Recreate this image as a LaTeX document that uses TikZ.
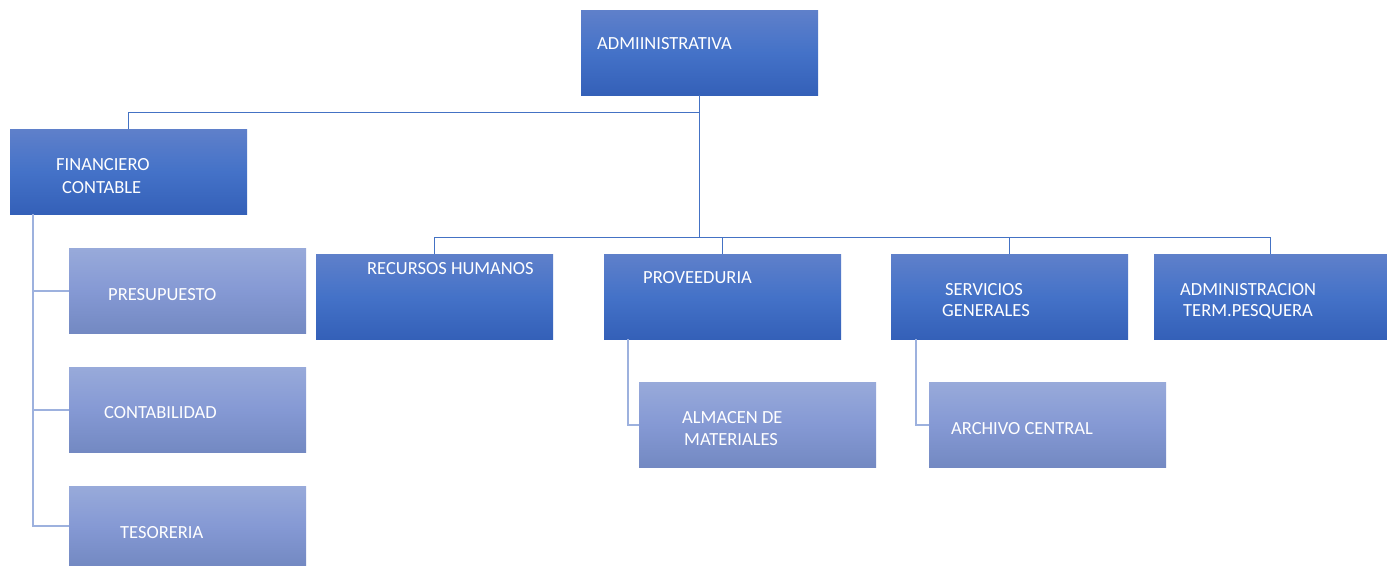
\documentclass[tikz,border=0pt]{standalone}
\usepackage{fontspec}
\setmainfont{Carlito}
\usetikzlibrary{calc}
\definecolor{dtop}{HTML}{5F80CA}
\definecolor{dmid}{HTML}{4472C8}
\definecolor{dbot}{HTML}{3460B8}
\definecolor{ltop}{HTML}{98AADA}
\definecolor{lmid}{HTML}{8599D4}
\definecolor{lbot}{HTML}{7389C2}
\definecolor{dline}{HTML}{4472C4}
\definecolor{lline}{HTML}{9DB1DE}
\tikzset{
  darkbox/.style={rectangle, inner sep=0pt, anchor=north west, top color=dtop, bottom color=dbot, middle color=dmid, draw=none, minimum width=237pt, minimum height=85pt},
  lightbox/.style={rectangle, inner sep=0pt, anchor=north west, top color=ltop, bottom color=lbot, middle color=lmid, draw=none, minimum width=237pt, minimum height=85pt},
  lbl/.style={anchor=base west, inner sep=0pt, text=white, font=\fontsize{18.5}{22}\selectfont},
  dconn/.style={draw=dline, line width=1.4pt},
  lconn/.style={draw=lline, line width=1.8pt},
}
\begin{document}
\begin{tikzpicture}[x=1pt,y=-1pt]
\useasboundingbox[fill=white] (0,0) rectangle (1387,565);
% boxes
\node[darkbox] (admin) at (581,10) {};
\node[darkbox] (fin) at (10,129) {};
\node[darkbox] (rrhh) at (316,254) {};
\node[darkbox] (prov) at (604,254) {};
\node[darkbox] (serv) at (891,254) {};
\node[darkbox, minimum width=233pt] (term) at (1154,254) {};
\node[lightbox] (pres) at (69,248) {};
\node[lightbox] (cont) at (69,367) {};
\node[lightbox, minimum height=80pt] (tes) at (69,486) {};
\node[lightbox] (alm) at (639,382) {};
\node[lightbox] (arch) at (929,382) {};
% connectors
\coordinate (j1) at ($(admin.south)+(0,17)$);
\coordinate (j2) at ($(admin.south)+(0,142)$);
\draw[dconn] (admin.south) -- (j2);
\draw[dconn] (j1) -| (fin.north);
\draw[dconn] (j2) -| (rrhh.north);
\draw[dconn] (j2) -| (prov.north);
\draw[dconn] (j2) -| (serv.north);
\draw[dconn] (j2) -| (term.north);
\coordinate (f0) at ($(fin.south west)+(23,0)$);
\draw[lconn] (f0) |- (pres.west);
\draw[lconn] (f0) |- (cont.west);
\draw[lconn] (f0) |- (tes.west);
\coordinate (p0) at ($(prov.south west)+(24,0)$);
\draw[lconn] (p0) |- (alm.west);
\coordinate (s0) at ($(serv.south west)+(25,0)$);
\draw[lconn] (s0) |- (arch.west);
% labels
\node[lbl] (tadmin) at (597,49) {ADMIINISTRATIVA};
\node[lbl] (tfin1) at (56,170) {FINANCIERO};
\node[lbl] (tfin2) at (62,193) {CONTABLE};
\node[lbl] (tpres) at (108,300) {PRESUPUESTO};
\node[lbl] (tcont) at (104,418) {CONTABILIDAD};
\node[lbl] (ttes) at (120,538) {TESORERIA};
\node[lbl] (trrhh) at (367,274) {RECURSOS HUMANOS};
\node[lbl] (tprov) at (643,283) {PROVEEDURIA};
\node[lbl] (tserv1) at (945,295) {SERVICIOS};
\node[lbl] (tserv2) at (942,316) {GENERALES};
\node[lbl] (tterm1) at (1180,295) {ADMINISTRACION};
\node[lbl] (tterm2) at (1183,316) {TERM.PESQUERA};
\node[lbl] (talm1) at (682,423) {ALMACEN DE};
\node[lbl] (talm2) at (684,445) {MATERIALES};
\node[lbl] (tarch) at (951,434) {ARCHIVO CENTRAL};
\end{tikzpicture}
\end{document}
